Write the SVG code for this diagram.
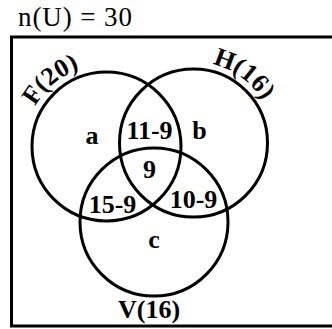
<svg xmlns="http://www.w3.org/2000/svg" width="332" height="329" viewBox="0 0 332 329">
<style>
.ring{fill:none;stroke:#000;stroke-width:3}
.lbl{font-family:"Liberation Serif","Times New Roman",serif;font-weight:bold;font-size:26px;fill:#000;text-anchor:middle}
.title{font-family:"Liberation Serif","Times New Roman",serif;font-size:27px;fill:#000}
</style>
<defs>
<path id="fArc" d="M25.75 132.26 A82 82 0 0 1 106.5 64.5"/>
<path id="hArc" d="M187.85 62.2 A81 81 0 0 1 272.1 123.4"/>
</defs>
<rect width="332" height="329" fill="#fff"/>
<text class="title" x="18" y="26" textLength="114" lengthAdjust="spacing">n(U) = 30</text>
<g id="universe"><rect x="11.5" y="37" width="323" height="289" class="ring"/></g>
<g id="F"><circle cx="106.5" cy="146.5" r="74.5" class="ring"/>
<text class="lbl"><textPath href="#fArc" startOffset="50%">F(20)</textPath></text></g>
<g id="H"><circle cx="193.5" cy="143" r="74" class="ring"/>
<text class="lbl"><textPath href="#hArc" startOffset="50%">H(16)</textPath></text></g>
<g id="V"><circle cx="154" cy="222" r="74" class="ring"/>
<text class="lbl" x="149" y="318">V(16)</text></g>
<g id="regions">
<text class="lbl" x="92" y="144">a</text>
<text class="lbl" x="149.5" y="139">11-9</text>
<text class="lbl" x="199.5" y="139">b</text>
<text class="lbl" x="149.5" y="178">9</text>
<text class="lbl" x="112.5" y="213">15-9</text>
<text class="lbl" x="193.5" y="208">10-9</text>
<text class="lbl" x="154" y="248">c</text>
</g>
<g id="connectors"/>
</svg>
